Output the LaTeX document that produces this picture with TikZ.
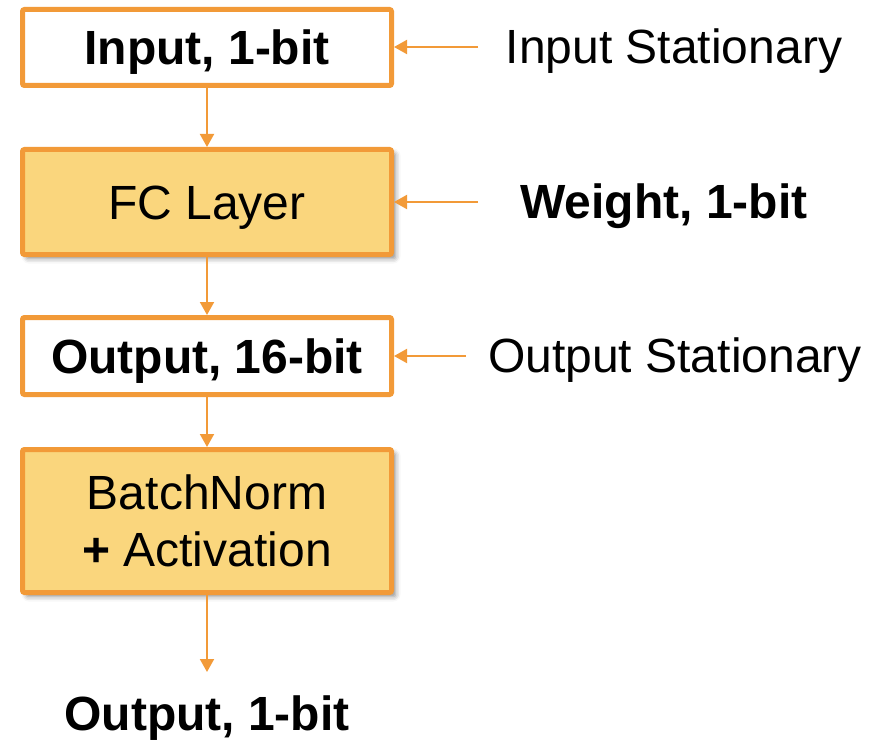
\documentclass[tikz,border=0pt]{standalone}
\usepackage{fontspec}
\setmainfont{Liberation Sans}
\usetikzlibrary{arrows.meta,shadows.blur}
\definecolor{boxline}{HTML}{F29A38}
\definecolor{boxfill}{HTML}{FAD67D}
\begin{document}
\begin{tikzpicture}[x=1pt,y=-1pt,
  every node/.style={inner sep=0pt,font=\fontsize{48}{57}\selectfont,text height=34pt,text depth=0pt},
  databox/.style={draw=boxline,line width=5pt,fill=white,rounded corners=2pt,
    minimum width=369pt,align=center},
  layerbox/.style={databox,fill=boxfill,
    blur shadow={shadow xshift=4pt,shadow yshift=-4pt,shadow blur radius=5pt,shadow opacity=45}},
  flow/.style={draw=boxline,line width=2pt,-{Triangle[length=13pt,width=14pt]}},
  sidelabel/.style={align=center}]
\useasboundingbox (0,0) rectangle (889,741);

% main pipeline
\node[databox,minimum height=76pt] (in) at (207,47.5) {\bfseries Input, 1-bit};
\node[layerbox,minimum height=105pt] (fc) at (207,202) {FC Layer};
\node[databox,minimum height=77pt] (acc) at (207,356) {\bfseries Output, 16-bit};
\node[layerbox,minimum height=143pt,text height=91pt] (bn) at (207,521) {BatchNorm\\\textbf{+} Activation};
\node (out) at (207,713.5) {\bfseries Output, 1-bit};
\coordinate (outtip) at (207,672);

\draw[flow] (in) -- (fc);
\draw[flow] (fc) -- (acc);
\draw[flow] (acc) -- (bn);
\draw[flow] (bn) -- (outtip);

% side annotations
\node[sidelabel] (is) at (674,46.5) {Input Stationary};
\node[sidelabel] (wt) at (664,201.5) {\bfseries Weight, 1-bit};
\node[sidelabel] (os) at (675,355.5) {Output Stationary};
\coordinate (isfrom) at (478,47);
\coordinate (wtfrom) at (478,202);
\coordinate (osfrom) at (466,356);

\draw[flow] (isfrom) -- (isfrom -| in.east);
\draw[flow] (wtfrom) -- (wtfrom -| fc.east);
\draw[flow] (osfrom) -- (osfrom -| acc.east);
\end{tikzpicture}
\end{document}
